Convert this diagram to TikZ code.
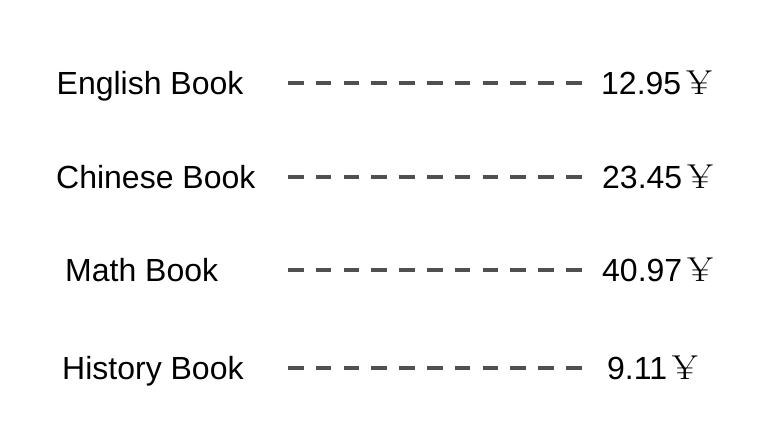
\documentclass[tikz,border=0pt]{standalone}
\usepackage{fontspec}
\setmainfont{Liberation Sans}
\newfontfamily\yenfont{Latin Modern Roman}
\usepackage{xcolor}
\definecolor{dashgray}{RGB}{80,80,80}
\newcommand{\yenmark}{\kern5pt{\yenfont\scalebox{1.15}[1.08]{¥}}}

\begin{document}
\begin{tikzpicture}[x=1pt, y=-1pt,
    item/.style={inner sep=0pt, anchor=base west, font=\fontsize{32}{38}\selectfont},
    leader/.style={dashgray, line width=3.3pt, dash pattern=on 15.5pt off 12.3pt}]
        \useasboundingbox (0,0) rectangle (769,439);

        % Boeken, stippellijnen en prijzen
        \foreach \name/\price/\y/\xl/\xp in {English Book/12.95/83/56.5/601,
                Chinese Book/23.45/177/56/602, Math Book/40.97/270/65/602,
                History Book/9.11/368/62/607} {
            \node[item] (book-\y) at (\xl, \y+11) {\name};
            \coordinate (from-\y) at (288, \y);
            \coordinate (to-\y) at (582, \y);
            \draw[leader] (from-\y) -- (to-\y);
            \node[item] (price-\y) at (\xp, \y+11) {\price\yenmark};
        }
    \end{tikzpicture}
\end{document}
